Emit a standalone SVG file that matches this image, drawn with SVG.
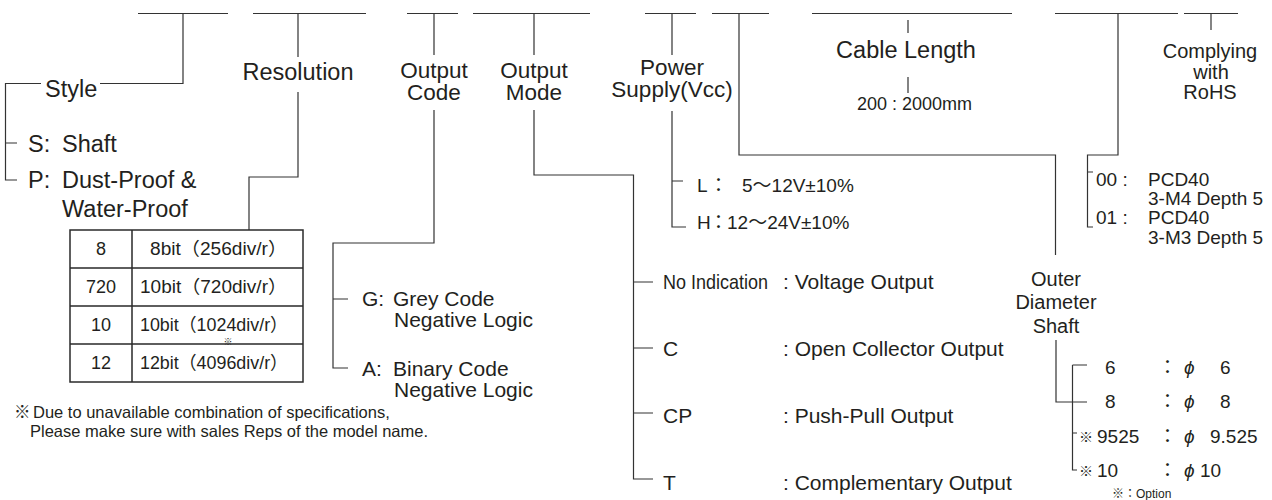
<svg xmlns="http://www.w3.org/2000/svg" width="1272" height="500" viewBox="0 0 1272 500">
<style>
text{font-family:'Liberation Sans',Arial,'Noto Sans CJK JP',sans-serif;fill:#231f20}
.lb{font-size:23.5px}
.lb2{font-size:22.5px}
.md{font-size:21px}
.sm{font-size:19px}
.tb{font-size:18px}
.nt{font-size:16.5px}
.c{text-anchor:middle}
.ln{fill:none;stroke:#333;stroke-width:1.2}
.tbl{fill:none;stroke:#2a2a2a;stroke-width:1.5}
</style>
<rect width="1272" height="500" fill="#fff"/>
<g id="connectors" class="ln">
<path d="M138 13.5H228M253 13.5H366M407 13.5H458M473 13.5H590M645 13.5H696M712 13.5H769M812 13.5H1012M1055 13.5H1178M1184 13.5H1238"/>
<path d="M183 13.5V83.5H100M41 83.5H5.5V180H17M5.5 143H17"/>
<path d="M298 13.5V57M298 92V177H249V230"/>
<path d="M434 13.5V55M434 110V243H333V368H348M333 299H348"/>
<path d="M534 13.5V55M534 110V175H633.5V479H653M633.5 282H653M633.5 348H653M633.5 413H653"/>
<path d="M672 13.5V55M672 111V227H686M672 181H683"/>
<path d="M739 13.5V155H1055.5V255"/>
<path d="M908 20V33M908 77V93"/>
<path d="M1118 13.5V155H1087.5V227H1093M1087.5 172H1093"/>
<path d="M1211 13.5V30"/>
<path d="M1056 340V402H1072.5M1072.5 365V470H1077M1072.5 365H1087M1072.5 402H1087M1072.5 433H1077"/>
</g>
<g id="style">
<text class="lb" x="45" y="97">Style</text>
<text class="lb" x="28" y="152">S:</text><text class="lb" x="62" y="152">Shaft</text>
<text class="lb" x="28" y="188">P:</text><text class="lb" x="62" y="188">Dust-Proof &amp;</text>
<text class="lb" x="62" y="217">Water-Proof</text>
</g>
<g id="resolution">
<text class="lb c" x="298" y="80">Resolution</text>
<g class="tbl">
<rect x="70" y="230" width="233" height="152"/>
<path d="M132 230V382M70 268H303M70 306H303M70 344H303"/>
</g>
<text class="tb c" x="101" y="255">8</text>
<text class="tb c" x="101" y="293">720</text>
<text class="tb c" x="101" y="331">10</text>
<text class="tb c" x="101" y="369">12</text>
<text class="tb" x="150" y="255" textLength="137" lengthAdjust="spacingAndGlyphs">8bit（256div/r）</text>
<text class="tb" x="140" y="293" textLength="147" lengthAdjust="spacingAndGlyphs">10bit（720div/r）</text>
<text class="tb" x="140" y="331" textLength="148" lengthAdjust="spacingAndGlyphs">10bit（1024div/r）</text>
<text class="tb" x="140" y="369" textLength="148" lengthAdjust="spacingAndGlyphs">12bit（4096div/r）</text>
<text x="228" y="345" class="c" style="font-size:9px">※</text>
<text class="nt" x="14" y="418">※</text>
<text class="nt" x="33" y="418">Due to unavailable combination of specifications,</text>
<text class="nt" x="30" y="437">Please make sure with sales Reps of the model name.</text>
</g>
<g id="output-code">
<text class="lb2 c" x="434" y="78">Output</text>
<text class="lb2 c" x="434" y="100">Code</text>
<text class="md" x="362" y="306">G:</text><text class="md" x="393" y="306">Grey Code</text>
<text class="md" x="394" y="327">Negative Logic</text>
<text class="md" x="362" y="376">A:</text><text class="md" x="393" y="376">Binary Code</text>
<text class="md" x="394" y="397">Negative Logic</text>
</g>
<g id="output-mode">
<text class="lb2 c" x="534" y="78">Output</text>
<text class="lb2 c" x="534" y="100">Mode</text>
<text class="md" x="663" y="289" textLength="105" lengthAdjust="spacingAndGlyphs">No Indication</text>
<text class="md" x="783" y="289">: Voltage Output</text>
<text class="md" x="663" y="356">C</text>
<text class="md" x="783" y="356">: Open Collector Output</text>
<text class="md" x="663" y="423">CP</text>
<text class="md" x="783" y="423">: Push-Pull Output</text>
<text class="md" x="663" y="490">T</text>
<text class="md" x="783" y="490">: Complementary Output</text>
</g>
<g id="power-supply">
<text class="lb2 c" x="672" y="75">Power</text>
<text class="lb2 c" x="672" y="97">Supply(Vcc)</text>
<text class="sm" x="697" y="192">L</text><text class="sm" x="709" y="192">：</text><text class="sm" x="742" y="192">5～12V±10%</text>
<text class="sm" x="697" y="229">H</text><text class="sm" x="709" y="229">：</text><text class="sm" x="727" y="229">12～24V±10%</text>
</g>
<g id="cable-length">
<text class="lb c" x="906" y="58">Cable Length</text>
<text x="857" y="110" style="font-size:18px">200 : 2000mm</text>
</g>
<g id="flange">
<text class="sm" x="1096" y="186">00 :</text><text class="sm" x="1148" y="186">PCD40</text>
<text class="sm" x="1148" y="205">3-M4 Depth 5</text>
<text class="sm" x="1096" y="224">01 :</text><text class="sm" x="1148" y="224">PCD40</text>
<text class="sm" x="1148" y="244">3-M3 Depth 5</text>
</g>
<g id="rohs">
<text class="c" x="1210" y="58" style="font-size:20px">Complying</text>
<text class="c" x="1211" y="79" style="font-size:20px">with</text>
<text class="c" x="1210" y="99" style="font-size:20px">RoHS</text>
</g>
<g id="shaft">
<text class="c" x="1056" y="286" style="font-size:20px">Outer</text>
<text class="c" x="1056" y="309" style="font-size:20px">Diameter</text>
<text class="c" x="1056" y="333" style="font-size:20px">Shaft</text>
<text class="sm" x="1105" y="374">6</text>
<text class="sm" x="1105" y="408">8</text>
<text x="1079" y="442" style="font-size:14px">※</text><text class="sm" x="1097" y="443">9525</text>
<text x="1079" y="476" style="font-size:14px">※</text><text class="sm" x="1097" y="477">10</text>
<text class="sm" x="1158" y="374">：</text><text class="sm" x="1184" y="374" font-style="italic">ϕ</text><text class="sm" x="1220" y="374">6</text>
<text class="sm" x="1158" y="408">：</text><text class="sm" x="1184" y="408" font-style="italic">ϕ</text><text class="sm" x="1220" y="408">8</text>
<text class="sm" x="1158" y="443">：</text><text class="sm" x="1184" y="443" font-style="italic">ϕ</text><text class="sm" x="1210" y="443">9.525</text>
<text class="sm" x="1158" y="477">：</text><text class="sm" x="1184" y="477" font-style="italic">ϕ</text><text class="sm" x="1200" y="477">10</text>
<text x="1112" y="498" style="font-size:12px">※：Option</text>
</g>
</svg>
